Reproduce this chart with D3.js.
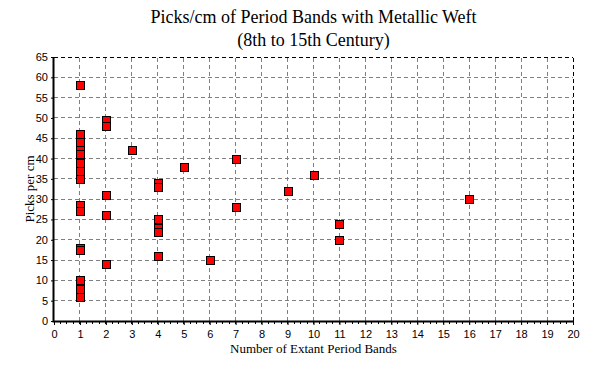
<!DOCTYPE html>
<html>
<head>
<meta charset="utf-8">
<script src="https://cdn.jsdelivr.net/npm/d3@7"></script>
<style>
  html, body { margin: 0; padding: 0; background: #fff; }
  svg { display: block; }
</style>
</head>
<body>
<svg id="chart" width="590" height="370"></svg>
<script>
// ---- data ----
const titleLines = ["Picks/cm of Period Bands with Metallic Weft", "(8th to 15th Century)"];
const xLabel = "Number of Extant Period Bands";
const yLabel = "Picks per cm";
const xTicks = d3.range(0, 21, 1);
const yTicks = d3.range(0, 66, 5);
// number of extant period bands (x) for each point
const bandsAll = [1, 1, 1, 1, 1, 1, 1, 1, 1, 1, 1, 1, 1, 1, 1,
                  2, 2, 2, 2, 2, 3, 4, 4, 4, 4, 4, 4,
                  5, 6, 7, 7, 9, 10, 11, 11, 16];
// picks per cm (y) for each point
const picks = [58, 46, 44, 42, 41, 39, 37, 35, 28.5, 27, 18, 17.5, 10, 8, 6,
               49.5, 48, 31, 26, 14, 42, 34, 33, 25, 23, 22, 16,
               38, 15, 40, 28, 32, 36, 24, 20, 30];

const svg = d3.select("#chart");
const margin = { left: 54, right: 17, top: 57, bottom: 49 };
const W = 590, H = 370;
const x = d3.scaleLinear().domain([0, 20]).range([margin.left, W - margin.right]);
const y = d3.scaleLinear().domain([0, 65]).range([H - margin.bottom, margin.top]);

const serif = "'Liberation Serif', 'Times New Roman', serif";
const sans = "'Liberation Sans', Arial, sans-serif";

// title
svg.append("g").selectAll("text").data(titleLines).join("text")
  .attr("x", (x(0) + x(20)) / 2)
  .attr("y", (d, i) => 23 + i * 23)
  .attr("text-anchor", "middle")
  .attr("font-family", serif)
  .attr("font-size", 18)
  .attr("fill", "#000")
  .text(d => d);

// grid
const grid = svg.append("g");
grid.selectAll("line.v").data(xTicks.filter(d => d > 0 && d < 20)).join("line")
  .attr("x1", d => x(d)).attr("x2", d => x(d))
  .attr("y1", y(0)).attr("y2", y(65))
  .attr("stroke", "#808080").attr("stroke-dasharray", "4,3").attr("shape-rendering", "crispEdges");
grid.selectAll("line.h").data(yTicks.filter(d => d > 0 && d < 65)).join("line")
  .attr("x1", x(0)).attr("x2", x(20))
  .attr("y1", d => y(d)).attr("y2", d => y(d))
  .attr("stroke", "#808080").attr("stroke-dasharray", "4,3").attr("shape-rendering", "crispEdges");
// top and right borders (dashed black)
grid.append("line").attr("x1", x(0)).attr("x2", x(20)).attr("y1", y(65)).attr("y2", y(65))
  .attr("stroke", "#000").attr("stroke-dasharray", "4,3").attr("shape-rendering", "crispEdges");
grid.append("line").attr("x1", x(20)).attr("x2", x(20)).attr("y1", y(0)).attr("y2", y(65))
  .attr("stroke", "#000").attr("stroke-dasharray", "4,3").attr("shape-rendering", "crispEdges");

// x axis
const xAxis = svg.append("g").attr("transform", `translate(0,${y(0)})`)
  .call(d3.axisBottom(x).tickValues(xTicks).tickFormat(d3.format("d")).tickSize(4).tickPadding(5));
xAxis.select(".domain").remove();
xAxis.selectAll("text").attr("font-family", sans).attr("font-size", 11).attr("fill", "#000");
// minor x ticks
svg.append("g").selectAll("line").data(d3.range(0, 20.01, 0.25)).join("line")
  .attr("x1", d => x(d)).attr("x2", d => x(d))
  .attr("y1", y(0)).attr("y2", y(0) + 3)
  .attr("stroke", "#000").attr("shape-rendering", "crispEdges");

// y axis
const yAxis = svg.append("g").attr("transform", `translate(${x(0)},0)`)
  .call(d3.axisLeft(y).tickValues(yTicks).tickFormat(d3.format("d")).tickSize(3).tickPadding(3));
yAxis.select(".domain").remove();
yAxis.selectAll("text").attr("font-family", sans).attr("font-size", 11).attr("fill", "#000");

// axis lines (thick)
svg.append("line").attr("x1", x(0)).attr("x2", x(20)).attr("y1", y(0) + 0.5).attr("y2", y(0) + 0.5)
  .attr("stroke", "#000").attr("stroke-width", 2);
svg.append("line").attr("x1", x(0) - 0.5).attr("x2", x(0) - 0.5).attr("y1", y(0) + 1.5).attr("y2", y(65))
  .attr("stroke", "#000").attr("stroke-width", 2);

// axis titles
svg.append("text")
  .attr("x", (x(0) + x(20)) / 2).attr("y", 353)
  .attr("text-anchor", "middle")
  .attr("font-family", serif).attr("font-size", 13).attr("fill", "#000")
  .text(xLabel);
svg.append("text")
  .attr("transform", `translate(34,${(y(0) + y(65)) / 2}) rotate(-90)`)
  .attr("text-anchor", "middle")
  .attr("font-family", serif).attr("font-size", 13).attr("fill", "#000")
  .text(yLabel);

// markers
const pts = picks.map((p, i) => ({ x: bandsAll[i], y: p }));
const ms = 8;
svg.append("g").selectAll("rect").data(pts).join("rect")
  .attr("x", d => Math.round(x(d.x)) - ms / 2 + 0.5)
  .attr("y", d => Math.round(y(d.y)) - ms / 2 + 0.5)
  .attr("width", ms).attr("height", ms)
  .attr("fill", "#ff0000").attr("stroke", "#000").attr("stroke-width", 1);
</script>
</body>
</html>
